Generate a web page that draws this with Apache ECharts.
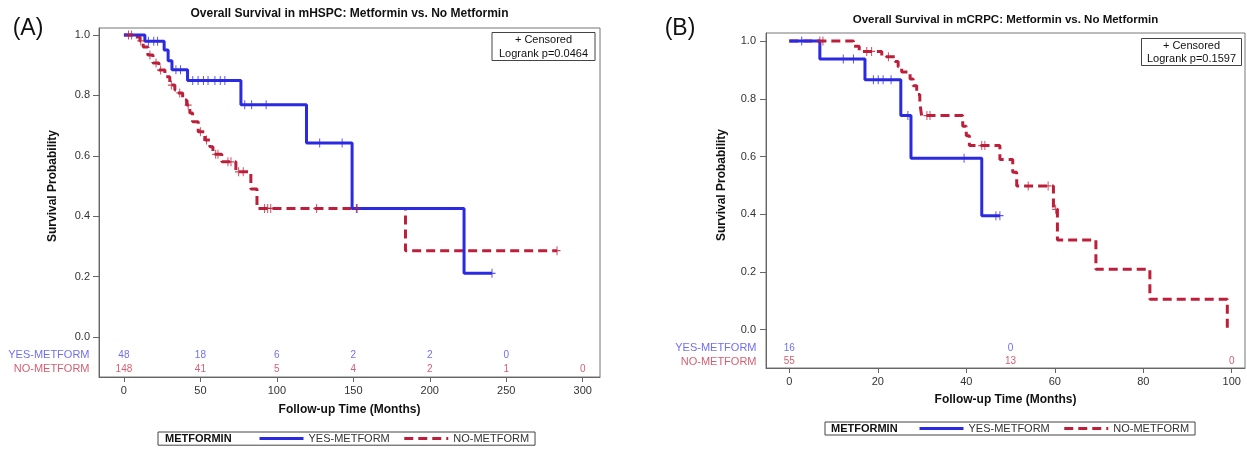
<!DOCTYPE html>
<html>
<head>
<meta charset="utf-8">
<script src="https://cdn.jsdelivr.net/npm/echarts@6/dist/echarts.min.js"></script>
<style>
    html, body { margin: 0; padding: 0; background: #fff; }
    #chart { width: 1247px; height: 450px; }
</style>
</head>
<body>
<div id="chart"></div>
<script>
    // ---- data ----
    var xTicksA = [0, 50, 100, 150, 200, 250, 300];
    var xTicksB = [0, 20, 40, 60, 80, 100];
    var yTicks = [0, 0.2, 0.4, 0.6, 0.8, 1.0];

    // (A) mHSPC
    var yesTimeA = [0, 13.7, 26.3, 28.9, 31.4, 41.6, 76.5, 119.4, 149.2, 222.4, 240.7];
    var yesSurvA = [1, 0.979, 0.95, 0.915, 0.885, 0.849, 0.769, 0.642, 0.426, 0.211, 0.211];
    var yesCensA = [16, 19.5, 22, 34, 37, 45, 48.5, 52, 55, 59.5, 63, 66, 79, 83.5, 93, 128, 142.7, 152, 240.7];
    var noTimeA = [0, 7, 10.5, 12.6, 15.7, 19, 22.9, 26.8, 30, 33.3, 35.3, 38.4, 41, 43.1, 44.9, 48.6, 52.9, 56.2, 58.2, 64, 73.2, 83, 87, 184.1, 283.2];
    var noSurvA = [1, 0.993, 0.98, 0.96, 0.934, 0.907, 0.884, 0.862, 0.834, 0.818, 0.808, 0.785, 0.768, 0.742, 0.713, 0.68, 0.652, 0.63, 0.605, 0.58, 0.547, 0.49, 0.426, 0.286, 0.286];
    var noCensA = [3, 5, 11, 17, 21, 24, 31, 36.5, 42, 50, 54, 60, 61.5, 68, 70, 75, 78, 92, 94, 96, 126, 152.5, 283.2];
    var riskTimeA = [0, 50, 100, 150, 200, 250, 300];
    var yesRiskA = [48, 18, 6, 2, 2, 0];
    var noRiskA = [148, 41, 5, 4, 2, 1, 0];

    // (B) mCRPC
    var yesTimeB = [0, 6.9, 17.1, 25.2, 27.5, 43.5, 47.6];
    var yesSurvB = [1, 0.938, 0.866, 0.742, 0.594, 0.395, 0.395];
    var yesCensB = [2.8, 12.2, 14.5, 19, 20.1, 21.2, 23, 26.8, 39.5, 46.7, 47.6];
    var noTimeB = [0, 14.5, 15.8, 20.9, 23.9, 24.6, 25.4, 27.3, 28, 28.8, 29.5, 29.9, 39.2, 40, 40.7, 47.6, 50.5, 51.4, 59.7, 60.6, 69.3, 81.5, 99];
    var noSurvB = [1, 0.982, 0.964, 0.946, 0.929, 0.911, 0.893, 0.869, 0.845, 0.815, 0.785, 0.742, 0.705, 0.672, 0.638, 0.59, 0.545, 0.498, 0.417, 0.311, 0.209, 0.105, 0];
    var noCensB = [6.9, 7.6, 17.5, 18.6, 22.4, 31.1, 31.8, 43.5, 44.2, 54, 58.5, 60.2];
    var riskTimeB = [0, 50, 100];
    var yesRiskB = [16, 0];
    var noRiskB = [55, 13, 0];

    // ---- styling ----
    var FONT = 'Liberation Sans, Arial, Helvetica, sans-serif';
    var BLUE = '#2a2ae2';
    var RED = '#bd1f3a';
    var BLUE_TXT = '#4b4be6';
    var RED_TXT = '#c9364e';
    var AXIS = '#666';
    var PLUS = 'path://M4.3,0H5.7V4.3H10V5.7H5.7V10H4.3V5.7H0V4.3H4.3Z';

    // survival value of a step curve at time t
    function survAt(times, surv, t) {
        var s = surv[0];
        for (var i = 0; i < times.length; i++) {
            if (times[i] <= t) s = surv[i];
        }
        return s;
    }

    function pairs(xs, ys) {
        return xs.map(function (x, i) { return [x, ys[i]]; });
    }

    function xAxisOf(grid, min, max, ticks, gap) {
        return {
            type: 'value', gridIndex: grid, min: min, max: max,
            name: 'Follow-up Time (Months)', nameLocation: 'middle', nameGap: gap,
            nameTextStyle: { fontFamily: FONT, fontWeight: 'bold', fontSize: 12, color: '#111' },
            splitLine: { show: false },
            axisLine: { show: true, onZero: false, lineStyle: { color: AXIS, width: 1 } },
            axisTick: { show: true, length: 5, customValues: ticks, lineStyle: { color: AXIS } },
            axisLabel: { customValues: ticks, margin: 8, fontFamily: FONT, fontSize: 11, color: '#333' }
        };
    }

    function yAxisOf(grid, min, max, margin) {
        return {
            type: 'value', gridIndex: grid, min: min, max: max,
            splitLine: { show: false },
            axisLine: { show: true, onZero: false, lineStyle: { color: AXIS, width: 1 } },
            axisTick: { show: true, length: 6, customValues: yTicks, lineStyle: { color: AXIS } },
            axisLabel: {
                customValues: yTicks, margin: margin, fontFamily: FONT, fontSize: 11, color: '#333',
                formatter: function (v) { return v.toFixed(1); }
            }
        };
    }

    function curve(name, idx, times, surv, color, dashed) {
        return {
            name: name, type: 'line', step: 'end', xAxisIndex: idx, yAxisIndex: idx,
            symbol: 'none', data: pairs(times, surv), z: dashed ? 3 : 4,
            lineStyle: { color: color, width: 3, type: dashed ? [9, 5] : 'solid' },
            itemStyle: { color: color }
        };
    }

    function censored(name, idx, cens, times, surv, color) {
        return {
            name: name, type: 'scatter', xAxisIndex: idx, yAxisIndex: idx,
            symbol: PLUS, symbolSize: [7, 9], clip: false, z: 5,
            itemStyle: { color: color },
            data: cens.map(function (t) { return [t, survAt(times, surv, t)]; })
        };
    }

    function riskRow(name, idx, times, counts, yRow, color) {
        return {
            name: name, type: 'scatter', xAxisIndex: idx, yAxisIndex: idx,
            symbolSize: 1, clip: false, itemStyle: { color: 'rgba(0,0,0,0)' },
            label: {
                show: true, position: 'inside', fontFamily: FONT, fontSize: 10, color: color,
                formatter: function (p) { return p.value[2]; }
            },
            data: counts.map(function (c, i) { return [times[i], yRow, c]; })
        };
    }

    function rowLabel(name, idx, xmin, yRow, text, color) {
        return {
            name: name, type: 'scatter', xAxisIndex: idx, yAxisIndex: idx,
            symbolSize: 1, clip: false, itemStyle: { color: 'rgba(0,0,0,0)' },
            label: {
                show: true, position: 'left', distance: 9, fontFamily: FONT, fontSize: 11, color: color,
                formatter: text
            },
            data: [[xmin, yRow]]
        };
    }

    function legendOf(top, left, pad, h) {
        return {
            top: top, left: left, orient: 'horizontal',
            data: ['YES-METFORM', 'NO-METFORM'],
            itemWidth: 44, itemHeight: h, itemGap: 13,
            padding: pad, borderColor: '#444', borderWidth: 1, borderRadius: 0,
            selectedMode: false,
            itemStyle: { opacity: 0 },   // line only, no marker in the key
            lineStyle: { width: 3 },
            textStyle: { fontFamily: FONT, fontSize: 11, color: '#333' }
        };
    }

    function txt(x, y, text, size, weight, align, rot) {
        return {
            type: 'text', x: x, y: y, rotation: rot || 0, z: 10,
            style: {
                text: text, fontFamily: FONT, fontSize: size, fontWeight: weight || 'normal',
                fill: '#111', align: align || 'center', verticalAlign: 'middle'
            }
        };
    }

    function box(x, y, w, h) {
        return {
            type: 'rect', z: 9, shape: { x: x, y: y, width: w, height: h },
            style: { fill: '#fff', stroke: '#444', lineWidth: 1 }
        };
    }

    var xMinA = -16.3, xMaxA = 311.3, yMinA = -0.132, yMaxA = 1.023;
    var xMinB = -5.27, xMaxB = 103.0, yMinB = -0.133, yMaxB = 1.028;

    var chart = echarts.init(document.getElementById('chart'), null, { renderer: 'canvas' });
    chart.setOption({
        animation: false,
        backgroundColor: '#fff',
        grid: [
            { left: 99, top: 28, right: 647, bottom: 73, show: true, borderColor: '#777', borderWidth: 1 },
            { left: 766, top: 33, right: 2, bottom: 82, show: true, borderColor: '#777', borderWidth: 1 }
        ],
        xAxis: [xAxisOf(0, xMinA, xMaxA, xTicksA, 27), xAxisOf(1, xMinB, xMaxB, xTicksB, 26)],
        yAxis: [yAxisOf(0, yMinA, yMaxA, 9), yAxisOf(1, yMinB, yMaxB, 10)],
        legend: [legendOf(432, 158, [1, 6, 1, 100], 14), legendOf(422, 825, [1, 6, 1, 93], 13)],
        series: [
            curve('YES-METFORM', 0, yesTimeA, yesSurvA, BLUE, false),
            curve('NO-METFORM', 0, noTimeA, noSurvA, RED, true),
            censored('censYesA', 0, yesCensA, yesTimeA, yesSurvA, BLUE),
            censored('censNoA', 0, noCensA, noTimeA, noSurvA, RED),
            riskRow('riskYesA', 0, riskTimeA, yesRiskA, -0.06, BLUE_TXT),
            riskRow('riskNoA', 0, riskTimeA, noRiskA, -0.106, RED_TXT),
            rowLabel('rowYesA', 0, xMinA, -0.06, 'YES-METFORM', BLUE_TXT),
            rowLabel('rowNoA', 0, xMinA, -0.106, 'NO-METFORM', RED_TXT),

            curve('YES-METFORM', 1, yesTimeB, yesSurvB, BLUE, false),
            curve('NO-METFORM', 1, noTimeB, noSurvB, RED, true),
            censored('censYesB', 1, yesCensB, yesTimeB, yesSurvB, BLUE),
            censored('censNoB', 1, noCensB, noTimeB, noSurvB, RED),
            riskRow('riskYesB', 1, riskTimeB, yesRiskB, -0.064, BLUE_TXT),
            riskRow('riskNoB', 1, riskTimeB, noRiskB, -0.111, RED_TXT),
            rowLabel('rowYesB', 1, xMinB, -0.064, 'YES-METFORM', BLUE_TXT),
            rowLabel('rowNoB', 1, xMinB, -0.111, 'NO-METFORM', RED_TXT)
        ],
        graphic: [
            txt(28, 29, '(A)', 23),
            txt(680, 29, '(B)', 23),
            txt(349.5, 14, 'Overall Survival in mHSPC: Metformin vs. No Metformin', 12, 'bold'),
            txt(1005.5, 20, 'Overall Survival in mCRPC: Metformin vs. No Metformin', 11.5, 'bold'),
            txt(53, 186, 'Survival Probability', 12, 'bold', 'center', Math.PI / 2),
            txt(722, 185, 'Survival Probability', 12, 'bold', 'center', Math.PI / 2),
            box(492, 32.5, 103, 28),
            txt(543.5, 40, '+ Censored', 11),
            txt(543.5, 53.5, 'Logrank p=0.0464', 11),
            box(1141.5, 38.5, 100, 27),
            txt(1191.5, 45.5, '+ Censored', 11),
            txt(1191.5, 58.5, 'Logrank p=0.1597', 11),
            txt(165, 439, 'METFORMIN', 11, 'bold', 'left'),
            txt(831, 429, 'METFORMIN', 11, 'bold', 'left')
        ]
    });
</script>
</body>
</html>
